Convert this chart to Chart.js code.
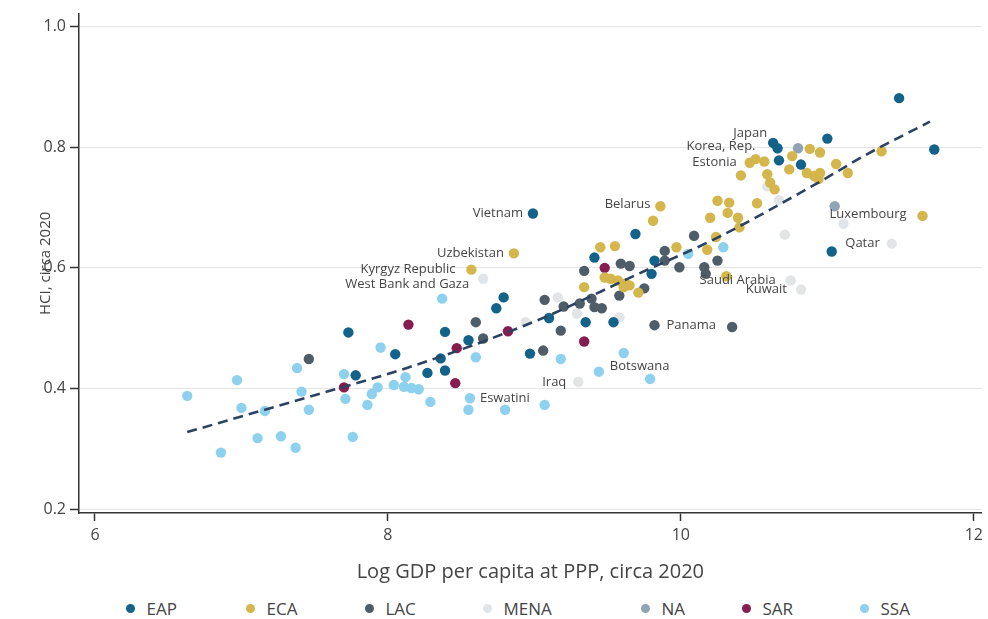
<!DOCTYPE html>
<html><head><meta charset="utf-8">
<script src="https://cdn.jsdelivr.net/npm/chart.js@4.4.1/dist/chart.umd.min.js"></script>
<style>
html,body{margin:0;padding:0;background:#fff;}
#wrap{position:relative;width:988px;height:619px;overflow:hidden;}
#box{position:absolute;left:0;top:0;width:988px;height:586px;}
#legend{position:absolute;left:0;top:596px;width:988px;height:24px;font-family:'Open Sans',sans-serif;font-size:17px;color:#444;}
.item{position:absolute;top:0;height:24px;display:flex;align-items:center;white-space:nowrap;}
.dot{width:9px;height:9px;border-radius:50%;margin-right:12px;flex:none;}
</style></head>
<body>
<div id="wrap"><div id="box"><canvas id="c"></canvas></div><div id="legend"></div></div>
<script>
// ---------- data ----------
const regions = ['EAP','ECA','LAC','MENA','NA','SAR','SSA'];
const xTicks = [6, 8, 10, 12];
const yTicks = [0.2, 0.4, 0.6, 0.8, 1.0];

const eapX = [7.73,7.78,8.05,8.27,8.36,8.39,8.39,8.55,8.74,8.79,8.99,8.97,9.10,9.35,9.41,9.54,9.69,9.80,9.82,10.63,10.66,10.67,10.82,11.00,11.03,11.49,11.73];
const eapY = [0.493,0.422,0.457,0.426,0.450,0.494,0.430,0.480,0.533,0.551,0.690,0.458,0.517,0.510,0.617,0.510,0.656,0.590,0.612,0.807,0.798,0.778,0.771,0.814,0.627,0.881,0.796];

const ecaX = [8.57,8.86,9.34,9.45,9.55,9.48,9.52,9.57,9.62,9.65,9.61,9.71,9.81,9.86,9.97,10.18,10.20,10.24,10.25,10.33,10.32,10.39,10.40,10.52,10.31,10.41,10.47,10.51,10.57,10.59,10.61,10.64,10.74,10.76,10.88,10.95,10.86,10.91,10.94,10.95,11.06,11.14,11.37,11.65];
const ecaY = [0.597,0.624,0.568,0.634,0.636,0.584,0.582,0.579,0.574,0.571,0.568,0.559,0.678,0.702,0.634,0.630,0.683,0.651,0.711,0.708,0.691,0.683,0.667,0.707,0.586,0.753,0.774,0.780,0.776,0.755,0.741,0.730,0.763,0.785,0.797,0.791,0.757,0.752,0.747,0.757,0.772,0.757,0.793,0.686];

const lacX = [7.46,8.60,8.65,9.06,9.07,9.18,9.20,9.31,9.34,9.39,9.41,9.46,9.58,9.59,9.65,9.75,9.82,9.89,9.89,9.99,10.09,10.16,10.17,10.25,10.35];
const lacY = [0.449,0.510,0.483,0.463,0.547,0.496,0.536,0.541,0.595,0.549,0.535,0.533,0.554,0.607,0.603,0.566,0.505,0.628,0.612,0.601,0.653,0.601,0.590,0.612,0.502];

const menaX = [8.65,8.94,9.16,9.29,9.30,9.58,10.59,10.67,10.71,11.11,11.44,10.75,10.82];
const menaY = [0.582,0.510,0.551,0.524,0.411,0.518,0.735,0.712,0.655,0.673,0.640,0.579,0.564];

const naX = [10.80,11.05];
const naY = [0.798,0.702];

const sarX = [7.70,8.14,8.47,8.46,8.82,9.34,9.48];
const sarY = [0.402,0.506,0.467,0.409,0.495,0.478,0.600];

const ssaX = [6.63,6.86,6.97,7.00,7.11,7.16,7.27,7.37,7.38,7.41,7.46,7.70,7.71,7.76,7.86,7.89,7.93,7.95,8.04,8.11,8.16,8.21,8.29,8.37,8.60,8.56,8.55,8.80,9.07,9.18,9.44,9.61,9.79,10.05,10.29,8.12];
const ssaY = [0.388,0.294,0.414,0.368,0.318,0.363,0.321,0.302,0.434,0.395,0.365,0.424,0.383,0.320,0.373,0.391,0.402,0.468,0.406,0.403,0.401,0.399,0.378,0.549,0.452,0.384,0.365,0.365,0.373,0.449,0.428,0.459,0.416,0.623,0.634,0.419];

const trendX = [6.63,7.50,8.14,9.00,9.71,10.25,10.93,11.27,11.70];
const trendY = [0.328,0.389,0.435,0.511,0.590,0.650,0.740,0.788,0.842];

const labelNames = ['Vietnam','Belarus','Uzbekistan','Kyrgyz Republic','West Bank and Gaza','Japan','Korea, Rep.','Estonia','Luxembourg','Qatar','Saudi Arabia','Kuwait','Panama','Botswana','Iraq','Eswatini'];
const labelX = [8.99,9.86,8.86,8.57,8.65,10.63,10.66,10.47,11.65,11.44,10.75,10.82,9.82,9.44,9.30,8.56];
const labelY = [0.690,0.702,0.624,0.597,0.582,0.807,0.798,0.774,0.686,0.640,0.579,0.564,0.505,0.428,0.411,0.384];

// ---------- styling ----------
const colors = ['#12628a','#d4b64c','#4f5d69','#e2e5e7','#90a4b6','#861d4e','#8dd1ee'];
const labelDx = [-10,-10,-10,-16,-14,-6,-22,-13,-16,-12,-15,-14,12,11,-12,10];
const labelDy = [0,-2,0,0,6,-10,-2,0,-2,0,0,0,0,-5,0,0];
const legendCenters = [130,250,369,487,645,746,864];

const series = [[eapX,eapY],[ecaX,ecaY],[lacX,lacY],[menaX,menaY],[naX,naY],[sarX,sarY],[ssaX,ssaY]];
const datasets = regions.map((r,i)=>({
  label:r, type:'scatter',
  data: series[i][0].map((x,j)=>({x:x,y:series[i][1][j]})),
  backgroundColor: colors[i], borderColor: colors[i], borderWidth:0,
  pointRadius:5.2, pointHoverRadius:5.2, order:1
}));
datasets.unshift({
  label:'Fit', type:'line',
  data: trendX.map((x,j)=>({x:x,y:trendY[j]})),
  borderColor:'#2c4262', borderWidth:2.6, borderDash:[10,6],
  pointRadius:0, fill:false, cubicInterpolationMode:'monotone', order:0
});

const labelPlugin = {
  id:'countryLabels',
  afterDatasetsDraw(chart){
    const {ctx, scales:{x,y}} = chart;
    ctx.save();
    ctx.font = '13px "Open Sans"';
    ctx.fillStyle = '#444';
    ctx.textBaseline = 'middle';
    labelNames.forEach((t,i)=>{
      const px = x.getPixelForValue(labelX[i]) + labelDx[i];
      const py = y.getPixelForValue(labelY[i]) + labelDy[i];
      ctx.textAlign = labelDx[i] < 0 ? 'right' : 'left';
      ctx.fillText(t, px, py);
    });
    ctx.restore();
  }
};

new Chart(document.getElementById('c'), {
  type:'scatter',
  data:{datasets:datasets},
  options:{
    responsive:true, maintainAspectRatio:false, animation:false,
    layout:{padding:{top:12,right:3,left:0,bottom:0}},
    plugins:{legend:{display:false}, tooltip:{enabled:false}},
    scales:{
      x:{type:'linear', min:5.891, max:12.054,
        afterBuildTicks:s=>{s.ticks = xTicks.map(v=>({value:v}));},
        afterFit:s=>{s.height = 73;},
        grid:{drawOnChartArea:false, drawTicks:true, tickLength:8, tickColor:'#333', tickWidth:1.5},
        border:{color:'#333', width:1.5},
        ticks:{font:{family:'Open Sans',size:16}, color:'#444', padding:5, callback:v=>String(v), maxRotation:0},
        title:{display:true, text:'Log GDP per capita at PPP, circa 2020', font:{family:'Open Sans',size:20}, color:'#444', padding:{top:0,bottom:2}}
      },
      y:{type:'linear', min:0.194, max:1.021,
        afterBuildTicks:s=>{s.ticks = yTicks.map(v=>({value:v}));},
        afterFit:s=>{s.width = 79;},
        grid:{color:'#e4e4e4', lineWidth:1, drawTicks:true, tickLength:9, tickColor:'#333', tickWidth:1.5},
        border:{color:'#333', width:1.5},
        ticks:{font:{family:'Open Sans',size:16}, color:'#444', padding:4, callback:v=>v.toFixed(1)},
        title:{display:true, text:'HCI, circa 2020', font:{family:'Open Sans',size:15}, color:'#444', padding:{top:37,bottom:0}}
      }
    }
  },
  plugins:[labelPlugin]
});

// HTML legend
const lg = document.getElementById('legend');
regions.forEach((r,i)=>{
  const it = document.createElement('div');
  it.className = 'item';
  it.style.left = (legendCenters[i]-4.5)+'px';
  const d = document.createElement('span'); d.className='dot'; d.style.background = colors[i];
  const t = document.createElement('span'); t.textContent = r;
  it.appendChild(d); it.appendChild(t); lg.appendChild(it);
});
</script>
</body></html>
